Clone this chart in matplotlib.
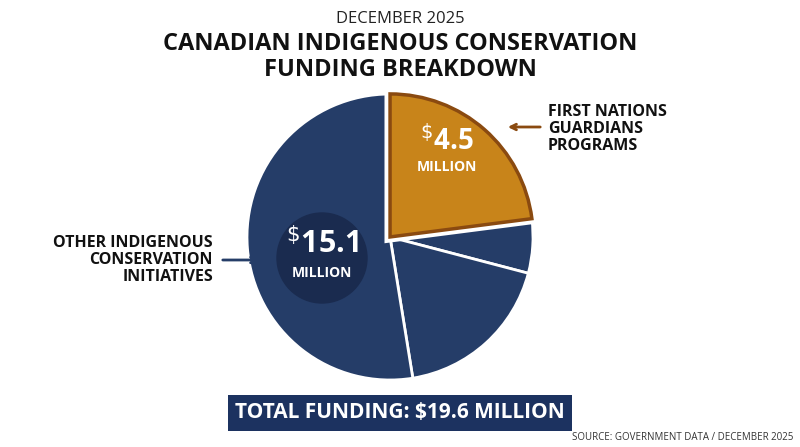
import matplotlib
matplotlib.use("Agg")
import matplotlib.pyplot as plt
import matplotlib.patheffects as pe
from matplotlib.patches import Circle

plt.rcParams['font.family'] = ['Open Sans', 'DejaVu Sans']

categories = ["First Nations Guardians Programs", "Other A", "Other B", "Other C"]
values = [4.5, 1.2, 3.6, 10.3]
guardians_value = 4.5
other_value = 15.1
total_value = 19.6

navy = "#253d68"
gold = "#c8841a"
fig = plt.figure(figsize=(8, 4.47), dpi=100)
ax = fig.add_axes([0, 0, 1, 1])

wedges, _ = ax.pie(values, colors=[gold, navy, navy, navy], startangle=90, counterclock=False,
                   center=(390, 210), radius=143, explode=[0.08, 0, 0, 0], frame=True,
                   wedgeprops=dict(edgecolor='white', linewidth=2))
wedges[0].set_edgecolor("#8a4a10"); wedges[0].set_linewidth(2.5); wedges[0].set_zorder(5)
wedges[0].set_path_effects([pe.Stroke(linewidth=8, foreground='white'), pe.Normal()])
ax.set_xlim(0, 800); ax.set_ylim(0, 447); ax.axis('off'); ax.set_aspect('equal')

ax.text(400, 428, "DECEMBER 2025", ha='center', va='center', fontsize=12, color='#222')
ax.text(400, 390, "CANADIAN INDIGENOUS CONSERVATION\nFUNDING BREAKDOWN", ha='center', va='center',
        fontsize=17, fontweight='bold', color='#111', linespacing=1.1)

ax.add_patch(Circle((322, 189), 45, color='#1a2b4f', zorder=3))
ax.text(322, 203, f"$^{{\\$}}${other_value}", ha='center', va='center', fontsize=22, fontweight='bold', color='white', zorder=4)
ax.text(322, 174, "MILLION", ha='center', va='center', fontsize=10, fontweight='bold', color='white', zorder=4)
ax.text(447, 305, f"$^{{\\$}}${guardians_value}", ha='center', va='center', fontsize=20, fontweight='bold', color='white', zorder=6)
ax.text(447, 280, "MILLION", ha='center', va='center', fontsize=10, fontweight='bold', color='white', zorder=6)

ax.text(548, 318, "FIRST NATIONS\nGUARDIANS\nPROGRAMS", ha='left', va='center', fontsize=11.5, fontweight='bold', color='#111', linespacing=1.1)
ax.annotate("", xy=(505, 320), xytext=(543, 320), arrowprops=dict(arrowstyle='->', color='#8a4a10', lw=2))
ax.text(213, 187, "OTHER INDIGENOUS\nCONSERVATION\nINITIATIVES", ha='right', va='center', fontsize=11.5, fontweight='bold', color='#111', linespacing=1.1)
ax.annotate("", xy=(262, 187), xytext=(220, 187), arrowprops=dict(arrowstyle='->', color=navy, lw=2))

ax.text(400, 34, f"TOTAL FUNDING: ${total_value} MILLION", ha='center', va='center', fontsize=15, fontweight='bold',
        color='white', bbox=dict(boxstyle='square,pad=0.35', fc='#1c3260', ec='none'))
ax.text(793, 9, "SOURCE: GOVERNMENT DATA / DECEMBER 2025", ha='right', va='center', fontsize=7, color='#333')
fig.savefig("out.png", dpi=100)
